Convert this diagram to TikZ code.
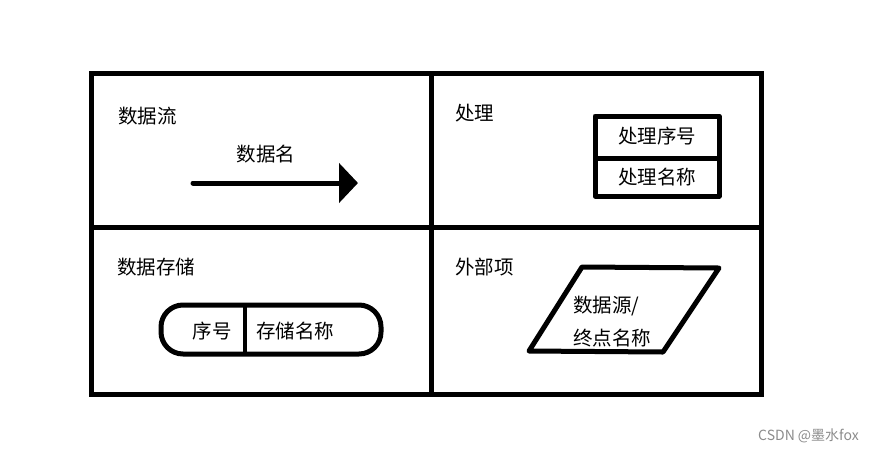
\documentclass[tikz,border=0pt]{standalone}
\usepackage{fontspec}
\setmainfont{Noto Sans CJK SC}
\usetikzlibrary{arrows.meta}
\tikzset{
  frame/.style={line width=5pt, line cap=rect},
  shapeline/.style={line width=5pt, line join=round},
  lbl/.style={inner sep=0pt, anchor=west, font=\fontsize{19.5}{23}\selectfont},
  clbl/.style={inner sep=0pt, font=\fontsize{19.5}{23}\selectfont},
  wm/.style={inner sep=0pt, anchor=west, text=black!45, font=\fontsize{14}{16}\selectfont}
}
\begin{document}
\begin{tikzpicture}[x=1pt,y=-1pt]
\useasboundingbox (0,0) rectangle (880,451);
\fill[white] (0,0) rectangle (880,451);
% frame
\draw[frame] (91,73) rectangle (761,394);
\draw[frame] (431,73) -- (431,394);
\draw[frame] (91,227) -- (761,227);
% data flow
\node[lbl] (t1) at (118,116) {数据流};
\node[clbl] (dn) at (266,154) {数据名};
\coordinate (a1) at (193,183);
\coordinate (a2) at (358,183);
\draw[line width=5pt, line cap=round, -{Triangle[length=19pt,width=39pt]}] (a1) -- (a2);
% process
\node[lbl] (t2) at (455,113) {处理};
\draw[shapeline] (595,116) rectangle (719,196);
\draw[shapeline] (595,158) -- (719,158);
\node[clbl] (p1) at (657,136) {处理序号};
\node[clbl] (p2) at (657,177) {处理名称};
% data store
\node[lbl] (t3) at (117,267) {数据存储};
\draw[shapeline, rounded corners=22pt] (161,305) rectangle (381,354);
\draw[line width=4pt] (245,305) -- (245,354);
\node[clbl] (s1) at (212,331) {序号};
\node[clbl] (s2) at (295,331) {存储名称};
% external
\node[lbl] (t4) at (455,267) {外部项};
\draw[shapeline, line cap=round] (582,267) -- (719,268) -- (663,352) -- (529,351) -- cycle;
\node[lbl] (e1) at (573,306) {数据源/};
\node[lbl] (e2) at (573,338) {终点名称};
% watermark
\node[wm] (w) at (758,436) {CSDN @墨水fox};
\end{tikzpicture}
\end{document}
